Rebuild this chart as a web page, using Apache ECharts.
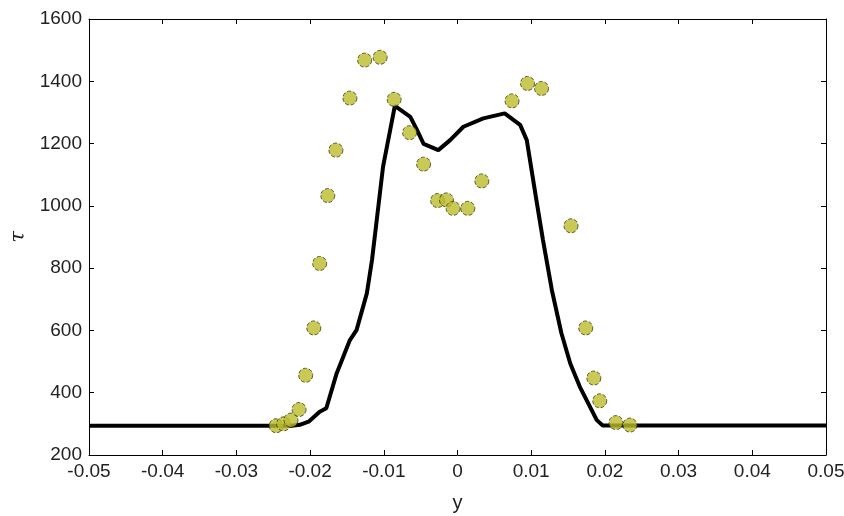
<!DOCTYPE html>
<html><head><meta charset="utf-8">
<script src="https://cdn.jsdelivr.net/npm/echarts@6/dist/echarts.min.js"></script>
<style>html,body{margin:0;padding:0;background:#fff}#c{width:844px;height:516px}</style>
</head><body><div id="c"></div>
<script>
// Measured points (y, tau)
const pointY = [-0.0246,-0.0236,-0.0226,-0.0215,-0.0206,-0.0195,-0.0187,-0.0176,-0.0165,-0.0146,-0.0126,-0.0105,-0.0086,-0.0065,-0.0046,-0.0027,-0.0015,-0.0006,0.0014,0.0033,0.0074,0.0095,0.0114,0.0154,0.0174,0.0185,0.0193,0.0215,0.0234];
const pointT = [294,300,312,346,456,608,815,1033,1179,1346,1468,1477,1342,1235,1134,1017,1019,992,992,1080,1337,1393,1377,936,608,447,374,304,296];
// Model curve (y, tau)
const lineY = [-0.05,-0.0225,-0.0214,-0.0202,-0.0187,-0.0178,-0.0164,-0.0146,-0.0137,-0.0123,-0.0116,-0.0101,-0.0085,-0.0064,-0.0055,-0.0046,-0.0026,-0.0010,0.0008,0.0035,0.0064,0.0085,0.0094,0.0107,0.0116,0.0128,0.0141,0.0153,0.0166,0.0189,0.0197,0.05];
const lineT = [294,294,297,307,339,350,462,569,601,719,826,1126,1321,1286,1244,1199,1179,1211,1254,1281,1297,1260,1211,1019,890,730,591,494,419,312,295,295];
const xTicks = [-0.05,-0.04,-0.03,-0.02,-0.01,0,0.01,0.02,0.03,0.04,0.05];
const yTicks = [200,400,600,800,1000,1200,1400,1600];

const font = 'Liberation Sans, Arial, sans-serif';
const axBase = {
  axisLine:{show:true,onZero:false,lineStyle:{color:'#000',width:1}},
  axisTick:{show:true,inside:true,length:5,lineStyle:{color:'#000'}},
  splitLine:{show:false}
};
const chart = echarts.init(document.getElementById('c'),null,{renderer:'canvas'});
chart.setOption({
  animation:false,
  grid:{left:89,right:18,top:19,bottom:61,containLabel:false,outerBoundsMode:'none'},
  xAxis:[
    Object.assign({type:'value',min:xTicks[0],max:xTicks[xTicks.length-1],interval:0.01,position:'bottom',
      name:'y',nameLocation:'middle',nameGap:38,nameTextStyle:{fontFamily:font,fontSize:20,color:'#222'},
      axisLabel:{fontFamily:font,fontSize:19,color:'#222',margin:7,
        formatter:v=>{const r=Math.round(v*100)/100; return r===0?'0':String(r);}}},axBase),
    Object.assign({type:'value',min:xTicks[0],max:xTicks[xTicks.length-1],interval:0.01,position:'top',axisLabel:{show:false}},axBase)
  ],
  yAxis:[
    Object.assign({type:'value',min:yTicks[0],max:yTicks[yTicks.length-1],interval:200,position:'left',
      name:'τ',nameLocation:'middle',nameGap:54,nameRotate:90,
      nameTextStyle:{fontFamily:'DejaVu Serif, serif',fontStyle:'italic',fontSize:21,color:'#222'},
      axisLabel:{fontFamily:font,fontSize:19,color:'#222',margin:7,formatter:v=>String(v)}},axBase),
    Object.assign({type:'value',min:yTicks[0],max:yTicks[yTicks.length-1],interval:200,position:'right',axisLabel:{show:false}},axBase)
  ],
  series:[
    {type:'line',data:lineY.map((y,i)=>[y,lineT[i]]),showSymbol:false,symbol:'none',
      lineStyle:{color:'#000',width:4},z:2},
    {type:'scatter',data:pointY.map((y,i)=>[y,pointT[i]]),symbol:'circle',symbolSize:14,
      itemStyle:{color:'#bcbc2c',borderColor:'#3a3a10',borderWidth:1,borderType:'dashed'},z:3}
  ]
});
</script></body></html>
